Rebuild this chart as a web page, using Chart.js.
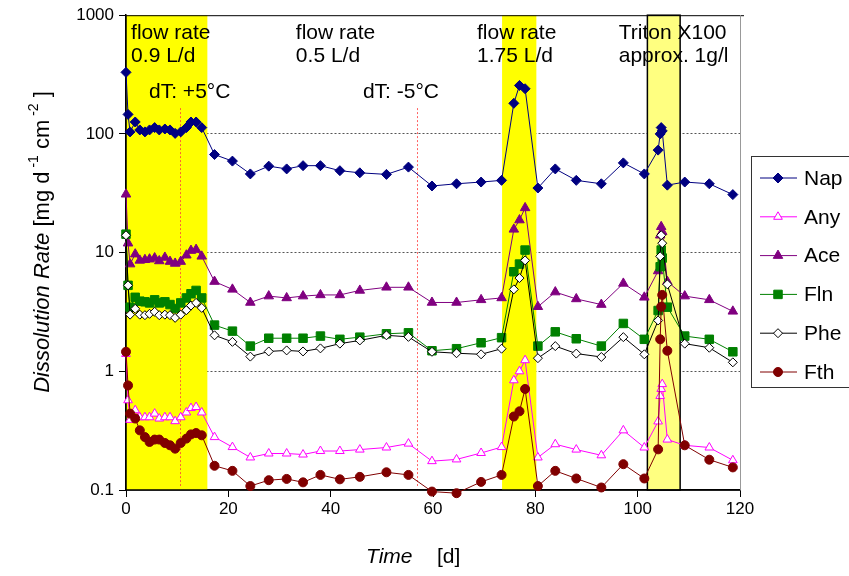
<!DOCTYPE html>
<html>
<head>
<meta charset="utf-8">
<script src="https://cdn.jsdelivr.net/npm/chart.js@4.4.0/dist/chart.umd.min.js"></script>
<style>
  html, body { margin: 0; padding: 0; background: #fff; }
</style>
</head>
<body>
<canvas id="rateChart" width="849" height="576"></canvas>
<script>
// sampling days (shared by all series)
const days = [0, 0.4, 0.8, 1.8, 2.7, 3.7, 4.6, 5.6, 6.5, 7.6, 8.6, 9.6, 10.7, 11.8, 12.7, 13.7, 14.8,
  17.3, 20.8, 24.3, 27.9, 31.4, 34.6, 38.0, 41.8, 45.7, 50.9, 55.2, 59.8, 64.6, 69.4, 73.4,
  75.8, 76.9, 78.0, 80.5, 83.9, 88.0, 92.9, 97.2, 101.3, 104.0, 104.4, 104.6, 104.8, 105.8,
  109.2, 114.0, 118.6];

const nap = [330, 146, 104, 126, 108, 104, 108, 113, 108, 110, 108, 101, 104, 113, 126, 126, 113,
  67, 59, 46, 53.5, 50.7, 54, 54, 49, 47, 45.6, 52.5, 36.4, 38, 39.3, 40.6,
  181, 256, 240, 35, 50.7, 40.6, 38, 57, 46, 73, 100, 113, 106, 37,
  39.3, 38, 30.8];

const any = [1.4, 0.57, 0.39, 0.47, 0.41, 0.41, 0.41, 0.44, 0.40, 0.41, 0.41, 0.38, 0.41, 0.45, 0.49, 0.50, 0.45,
  0.279, 0.23, 0.188, 0.203, 0.203, 0.199, 0.213, 0.213, 0.219, 0.228, 0.246, 0.175, 0.181, 0.205, 0.23,
  0.84, 1.0, 1.24, 0.188, 0.243, 0.219, 0.196, 0.318, 0.228, 0.378, 0.62, 0.71, 0.78, 0.266,
  0.238, 0.228, 0.178];

const ace = [31, 12, 8, 9.7, 8.6, 8.7, 8.8, 9.0, 8.5, 9.1, 8.4, 8.1, 8.4, 9.5, 10.4, 10.6, 9.3,
  5.7, 4.9, 3.8, 4.3, 4.15, 4.3, 4.4, 4.4, 4.8, 5.1, 5.1, 3.8, 3.8, 4.0, 4.15,
  15.7, 18.8, 23.8, 3.5, 4.65, 4.07, 3.65, 5.5, 4.2, 7.0, 14, 16.5, 15, 5.7,
  4.3, 4.0, 3.2];

const fln = [14.3, 5.3, 3.47, 4.2, 3.9, 3.85, 3.77, 4.0, 3.77, 3.85, 3.65, 3.38, 3.77, 4.15, 4.5, 4.8, 4.15,
  2.45, 2.18, 1.63, 1.9, 1.9, 1.9, 1.98, 1.86, 1.94, 2.07, 2.11, 1.49, 1.55, 1.74, 1.92,
  6.9, 8.0, 10.5, 1.63, 2.15, 1.88, 1.63, 2.53, 1.86, 3.25, 7.6, 10.5, 9.0, 3.47,
  1.98, 1.86, 1.46];

const phe = [14, 5.3, 3.0, 3.36, 3.0, 2.97, 3.05, 3.17, 2.97, 3.0, 2.97, 2.82, 3.0, 3.27, 3.58, 3.77, 3.42,
  2.01, 1.77, 1.33, 1.47, 1.5, 1.47, 1.56, 1.71, 1.82, 2.01, 1.95, 1.46, 1.42, 1.39, 1.55,
  4.9, 6.1, 8.6, 1.29, 1.63, 1.41, 1.32, 1.94, 1.39, 2.68, 9.3, 14, 12, 5.4,
  1.71, 1.58, 1.19];

const fth = [1.46, 0.76, 0.44, 0.40, 0.318, 0.279, 0.254, 0.266, 0.266, 0.249, 0.238, 0.223, 0.249, 0.271, 0.294, 0.302, 0.289,
  0.16, 0.145, 0.108, 0.121, 0.124, 0.116, 0.134, 0.123, 0.129, 0.141, 0.134, 0.097, 0.094, 0.117, 0.134,
  0.416, 0.46, 0.71, 0.108, 0.145, 0.125, 0.105, 0.165, 0.125, 0.22, 1.86, 3.5, 4.4, 1.49,
  0.238, 0.18, 0.155];

const seriesNames = ["Nap", "Any", "Ace", "Fln", "Phe", "Fth"];
const yTicks = [0.1, 1, 10, 100, 1000];

// experiment phases (in days)
const flowBands = [[0, 15.9], [73.5, 80.2]];
const tritonBand = [101.9, 108.3];
const dTLines = [10.5, 56.9];

const FONT = "'Liberation Sans', Arial, sans-serif";

const toPoints = (vals) => days.map((d, i) => ({ x: d, y: vals[i] }));

function makeSet(label, vals, color, style, radius, fill, order) {
  return {
    label: label,
    data: toPoints(vals),
    borderColor: color,
    backgroundColor: fill,
    borderWidth: 1,
    pointStyle: style,
    pointRadius: radius,
    pointBorderWidth: 1,
    pointBorderColor: color,
    pointBackgroundColor: fill,
    tension: 0,
    clip: 10,
    order: order,
  };
}

const datasets = [
  makeSet("Nap", nap, "#000080", "rectRot", 5, "#000080", 6),
  makeSet("Any", any, "#ff00ff", "triangle", 5, "#ffffff", 5),
  makeSet("Ace", ace, "#800080", "triangle", 5.5, "#800080", 4),
  makeSet("Fln", fln, "#008000", "rect", 6, "#008000", 3),
  makeSet("Phe", phe, "#000000", "rectRot", 4.5, "#ffffff", 2),
  makeSet("Fth", fth, "#800000", "circle", 4.5, "#800000", 1),
];

// Annotations, titles and legend
const decorations = {
  id: "decorations",
  beforeDatasetsDraw(chart) {
    const { ctx, chartArea: a, scales: { x, y } } = chart;
    ctx.save();
    // yellow flow-rate phases
    ctx.fillStyle = "#ffff00";
    flowBands.forEach(([s, e]) => {
      const x1 = x.getPixelForValue(s);
      const x2 = x.getPixelForValue(e);
      ctx.fillRect(x1, a.top, x2 - x1, a.bottom - a.top);
    });
    // triton phase
    const t1 = x.getPixelForValue(tritonBand[0]);
    const t2 = x.getPixelForValue(tritonBand[1]);
    ctx.fillStyle = "#ffff80";
    ctx.fillRect(t1, a.top, t2 - t1, a.bottom - a.top);
    ctx.strokeStyle = "#000";
    ctx.lineWidth = 1.5;
    ctx.strokeRect(t1, a.top, t2 - t1, a.bottom - a.top);

    // temperature change markers
    ctx.strokeStyle = "rgba(255, 60, 60, 0.8)";
    ctx.lineWidth = 1;
    ctx.setLineDash([2, 2]);
    dTLines.forEach((d) => {
      const px = Math.round(x.getPixelForValue(d)) + 0.5;
      ctx.beginPath();
      ctx.moveTo(px, y.getPixelForValue(165));
      ctx.lineTo(px, a.bottom - 4);
      ctx.stroke();
    });
    ctx.setLineDash([]);

    // redraw axis lines over the bands
    ctx.strokeStyle = "#000";
    ctx.lineWidth = 1.5;
    ctx.beginPath();
    ctx.moveTo(a.left, a.top);
    ctx.lineTo(a.left, a.bottom);
    ctx.lineTo(a.right, a.bottom);
    ctx.stroke();
    ctx.lineWidth = 1;
    ctx.beginPath();
    ctx.moveTo(a.left, a.top + 0.5);
    ctx.lineTo(a.right + 4, a.top + 0.5);
    ctx.stroke();
    ctx.strokeStyle = "#999";
    ctx.beginPath();
    ctx.moveTo(a.right + 0.5, a.top);
    ctx.lineTo(a.right + 0.5, a.bottom);
    ctx.stroke();
    ctx.restore();
  },
  afterDatasetsDraw(chart) {
    const { ctx, scales: { x } } = chart;
    ctx.save();
    ctx.fillStyle = "#000";
    ctx.font = "21px " + FONT;
    ctx.textBaseline = "alphabetic";
    const notes = [
      [1, ["flow rate", "0.9 L/d"]],
      [33.2, ["flow rate", "0.5 L/d"]],
      [68.6, ["flow rate", "1.75 L/d"]],
      [96.3, ["Triton X100", "approx. 1g/l"]],
    ];
    notes.forEach(([d, lines]) => {
      const px = x.getPixelForValue(d);
      ctx.fillText(lines[0], px, 39);
      ctx.fillText(lines[1], px, 62);
    });
    ctx.fillText("dT: +5°C", x.getPixelForValue(4.5), 98);
    ctx.fillText("dT: -5°C", x.getPixelForValue(46.3), 98);
    ctx.restore();
  },
  afterDraw(chart) {
    const { ctx } = chart;
    ctx.save();
    ctx.fillStyle = "#000";

    // y axis title, rotated, with italic part and superscripts
    const parts = [
      ["Dissolution Rate", "italic 22px " + FONT, 0],
      [" [mg d", "22px " + FONT, 0],
      [" -1", "14px " + FONT, -11],
      [" cm", "22px " + FONT, 0],
      [" -2", "14px " + FONT, -11],
      [" ]", "22px " + FONT, 0],
    ];
    let total = 0;
    parts.forEach((p) => { ctx.font = p[1]; total += ctx.measureText(p[0]).width; });
    ctx.translate(49, 242);
    ctx.rotate(-Math.PI / 2);
    let cx = -total / 2;
    ctx.textBaseline = "alphabetic";
    parts.forEach((p) => {
      ctx.font = p[1];
      ctx.fillText(p[0], cx, p[2]);
      cx += ctx.measureText(p[0]).width;
    });
    ctx.setTransform(1, 0, 0, 1, 0, 0);

    // x axis title
    ctx.font = "italic 21px " + FONT;
    ctx.fillText("Time", 366, 563);
    ctx.font = "21px " + FONT;
    ctx.fillText("[d]", 437, 563);

    // legend
    ctx.strokeStyle = "#333";
    ctx.lineWidth = 1;
    ctx.strokeRect(751.5, 156.5, 120, 231);
    ctx.font = "21px " + FONT;
    ctx.textBaseline = "middle";
    chart.data.datasets.forEach((ds, i) => {
      const ly = 178 + i * 38.8;
      ctx.strokeStyle = ds.borderColor;
      ctx.lineWidth = 1;
      ctx.beginPath();
      ctx.moveTo(760, ly);
      ctx.lineTo(797, ly);
      ctx.stroke();
      ctx.fillStyle = ds.pointBackgroundColor;
      ctx.strokeStyle = ds.pointBorderColor;
      Chart.helpers.drawPoint(ctx, { pointStyle: ds.pointStyle, radius: ds.pointRadius, borderWidth: 1, rotation: 0 }, 778, ly);
      ctx.fillStyle = "#000";
      ctx.fillText(seriesNames[i], 804, ly + 1);
    });
    ctx.restore();
  },
};

new Chart(document.getElementById("rateChart"), {
  type: "line",
  data: { datasets: datasets },
  options: {
    responsive: false,
    animation: false,
    layout: { padding: { top: 12, right: 109, left: 0, bottom: 0 } },
    plugins: { legend: { display: false }, tooltip: { enabled: false } },
    scales: {
      x: {
        type: "linear",
        min: 0,
        max: 120,
        ticks: { stepSize: 20, color: "#000", font: { family: FONT, size: 17 }, padding: 2, maxRotation: 0 },
        grid: { drawOnChartArea: false, drawTicks: true, tickLength: 7, tickColor: "#000" },
        border: { color: "#000", width: 1.5 },
        afterFit: (s) => { s.height = 86; },
      },
      y: {
        type: "logarithmic",
        min: 0.1,
        max: 1000,
        afterBuildTicks: (s) => { s.ticks = yTicks.map((v) => ({ value: v, major: true })); },
        ticks: {
          autoSkip: false,
          color: "#000",
          font: { family: FONT, size: 17 },
          padding: 5,
          callback: (v) => (v < 1 ? v.toFixed(1) : String(v)),
        },
        grid: {
          color: (c) => (c.tick && c.tick.value > 0.5 && c.tick.value < 500 ? "#555" : "rgba(0,0,0,0)"),
          tickColor: "#000",
          tickLength: 7,
          lineWidth: 1,
        },
        border: { color: "#000", width: 1.5, dash: [2, 2] },
        afterFit: (s) => { s.width = 126; },
      },
    },
  },
  plugins: [decorations],
});
</script>
</body>
</html>
